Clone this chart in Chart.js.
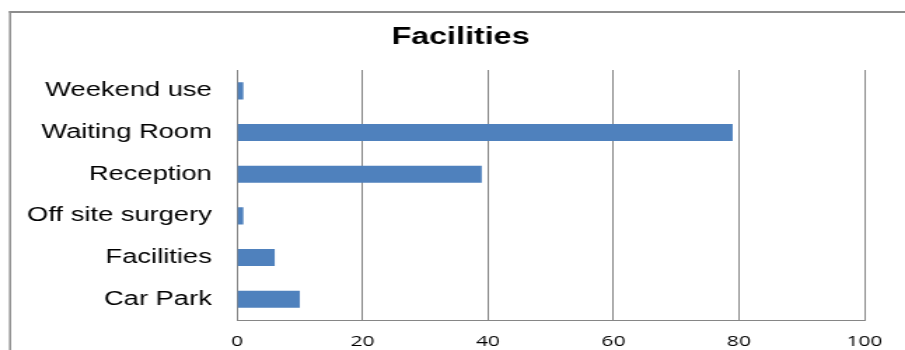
<!DOCTYPE html>
<html>
<head>
<meta charset="utf-8">
<script src="https://cdn.jsdelivr.net/npm/chart.js@4.4.1/dist/chart.umd.min.js"></script>
<style>
  html, body { margin: 0; padding: 0; background: #fff; overflow: hidden; }
  /* the reference is drawn wide, so the chart is laid out narrower and stretched */
  #wrap { width: 646px; height: 350px; transform: scaleX(1.401); transform-origin: 0 0; }
</style>
</head>
<body>
<div id="wrap"><canvas id="myChart" width="646" height="350"></canvas></div>
<script>
const categories = ["Weekend use", "Waiting Room", "Reception", "Off site surgery", "Facilities", "Car Park"];
const values = [1, 79, 39, 1, 6, 10];
const xTicks = [0, 20, 40, 60, 80, 100];

document.addEventListener("DOMContentLoaded", function () {
    // outer frame: left and top edges only
    const framePlugin = {
        id: "frame",
        afterLayout(chart) {
            // centre the title on the framed area, not the padded chart area
            if (chart.titleBlock) {
                chart.titleBlock.left = 0;
                chart.titleBlock.right = 657.4;
            }
        },
        beforeDraw(chart) {
            const ctx = chart.ctx;
            ctx.save();
            ctx.strokeStyle = "#8c8c8c";
            ctx.lineWidth = 1.5;
            ctx.beginPath();
            ctx.moveTo(7.2, 11);
            ctx.lineTo(7.2, chart.height);
            ctx.stroke();
            ctx.lineWidth = 2;
            ctx.beginPath();
            ctx.moveTo(6.5, 12);
            ctx.lineTo(chart.width, 12);
            ctx.stroke();
            ctx.restore();
        }
    };

    const ctx = document.getElementById("myChart").getContext("2d");
    new Chart(ctx, {
        type: "bar",
        data: {
            labels: categories,
            datasets: [{
                label: "Facilities",
                data: values,
                backgroundColor: "#4f81bd",
                borderWidth: 0,
                barPercentage: 0.41,
                categoryPercentage: 1
            }]
        },
        options: {
            indexAxis: "y",
            responsive: false,
            animation: false,
            layout: { padding: { left: 0, right: 29, top: 0, bottom: 0 } },
            plugins: {
                legend: { display: false },
                tooltip: { enabled: false },
                title: {
                    display: true,
                    text: "Facilities",
                    color: "#000",
                    font: { family: "Arial, 'Liberation Sans'", size: 23, weight: "bold" },
                    padding: { top: 24, bottom: 18.4 }
                }
            },
            scales: {
                x: {
                    min: 0,
                    max: 100,
                    afterBuildTicks(scale) {
                        scale.ticks = xTicks.map(v => ({ value: v }));
                    },
                    afterFit(scale) { scale.height = 30; },
                    grid: { color: "#868686", lineWidth: 1, drawTicks: false },
                    border: { display: true, color: "#868686", width: 1 },
                    ticks: {
                        color: "#000",
                        padding: 12.5,
                        font: { family: "'Open Sans'", size: 15 }
                    }
                },
                y: {
                    afterFit(scale) { scale.width = 169.2; },
                    grid: { display: false, drawTicks: false },
                    border: { display: true, color: "#868686", width: 1 },
                    ticks: {
                        color: "#000",
                        padding: 18,
                        font: { family: "Arial, 'Liberation Sans'", size: 19.5 }
                    }
                }
            }
        },
        plugins: [framePlugin]
    });
});
</script>
</body>
</html>
